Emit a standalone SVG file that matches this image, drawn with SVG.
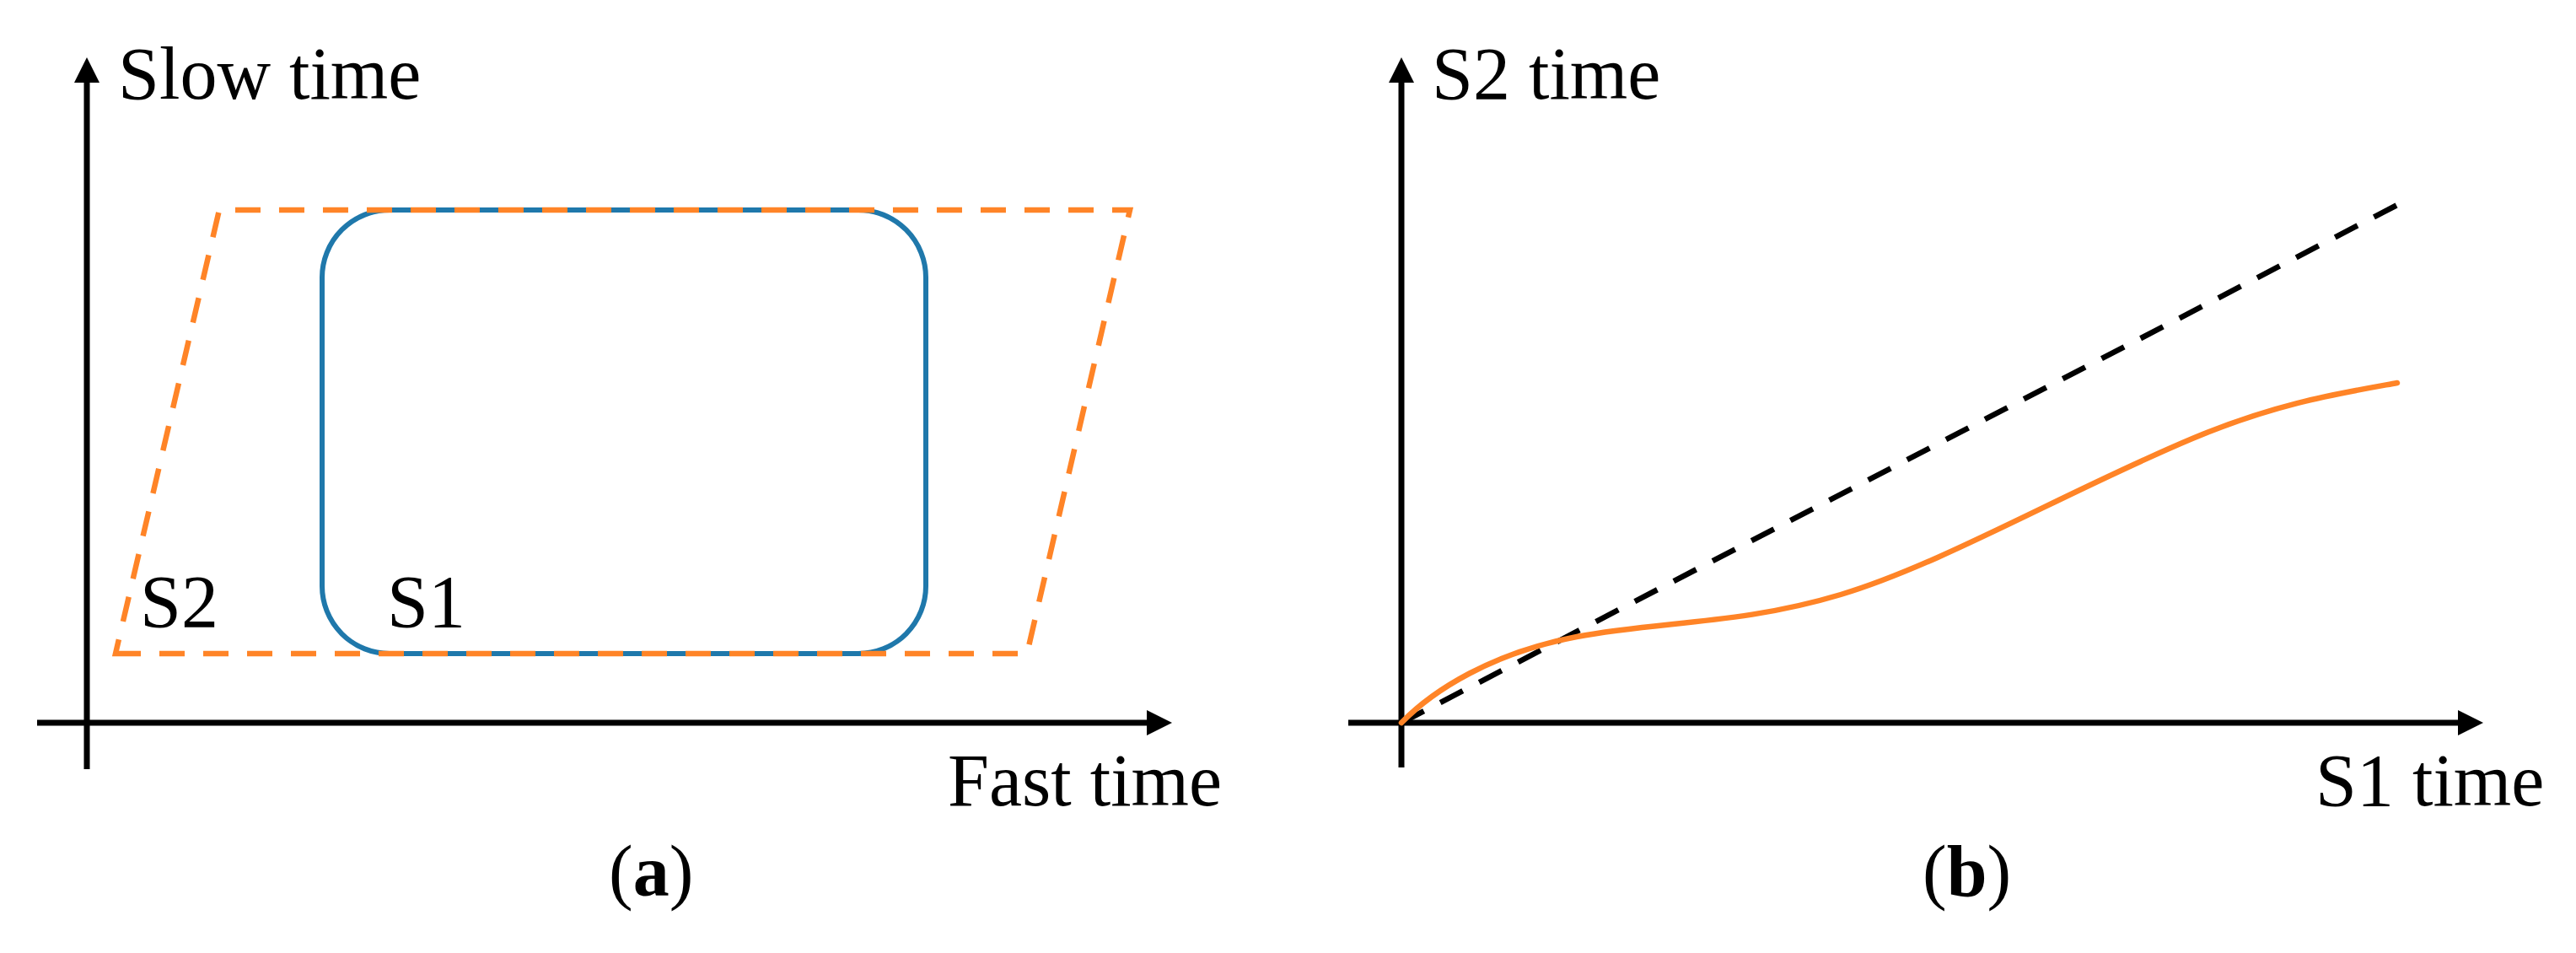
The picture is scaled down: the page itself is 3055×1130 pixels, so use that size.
<svg xmlns="http://www.w3.org/2000/svg" width="3055" height="1130" viewBox="0 0 3055 1130">
  <style>
    .lbl { font-family: "Liberation Serif", "Times New Roman", serif; font-size: 88px; fill: #000; }
    .cap { font-family: "Liberation Serif", "Times New Roman", serif; font-size: 86px; fill: #000; }
    .cap tspan.b { font-weight: bold; }
    .axis { stroke: #000; stroke-width: 7; fill: none; }
    .s1 { stroke: #1f78ab; stroke-width: 6; fill: none; }
    .s2 { stroke: #ff8427; stroke-width: 6.5; fill: none; stroke-dasharray: 30 22; }
    .curve { stroke: #ff8427; stroke-width: 6.5; fill: none; stroke-linecap: round; }
    .diag { stroke: #000; stroke-width: 6.5; fill: none; stroke-dasharray: 30 22; }
  </style>
  <defs>
    <marker id="arrow" viewBox="0 0 30 30" refX="1" refY="15" markerWidth="30" markerHeight="30" markerUnits="userSpaceOnUse" orient="auto">
      <path d="M0,0 L30,15 L0,30 Z" fill="#000"/>
    </marker>
  </defs>
  <rect width="3055" height="1130" fill="#fff"/>

  <g id="connectors">
    <line class="axis" x1="44" y1="857" x2="1361" y2="857" marker-end="url(#arrow)"/>
    <line class="axis" x1="103" y1="912" x2="103" y2="97" marker-end="url(#arrow)"/>
    <line class="axis" x1="1599" y1="857" x2="2916" y2="857" marker-end="url(#arrow)"/>
    <line class="axis" x1="1662" y1="910" x2="1662" y2="97" marker-end="url(#arrow)"/>
  </g>

  <g id="panel-a">
    <g id="s1-region">
      <rect class="s1" x="382" y="249" width="716" height="526" rx="80" ry="80"/>
    </g>
    <g id="s2-region">
      <path class="s2" d="M137,775 L1218,775 L1340,249 L260,249 Z"/>
    </g>
    <text class="lbl" x="140" y="117">Slow time</text>
    <text class="lbl" x="1124" y="955">Fast time</text>
    <text class="lbl" x="166" y="743">S2</text>
    <text class="lbl" x="459" y="743">S1</text>
    <text class="cap" x="722" y="1062">(<tspan class="b">a</tspan>)</text>
  </g>

  <g id="panel-b">
    <g id="identity-line">
      <line class="diag" x1="1662" y1="857" x2="2843" y2="243"/>
    </g>
    <g id="mapping-curve">
      <path class="curve" d="M1662,857 C1700,818 1770,774 1870,755 C1970,736 2063,741 2183,705 C2303,669 2450,583 2600,520 C2700,478 2773,466.6 2843,454"/>
    </g>
    <text class="lbl" x="1698" y="117">S2 time</text>
    <text class="lbl" x="2746" y="955">S1 time</text>
    <text class="cap" x="2280" y="1062">(<tspan class="b">b</tspan>)</text>
  </g>
</svg>
